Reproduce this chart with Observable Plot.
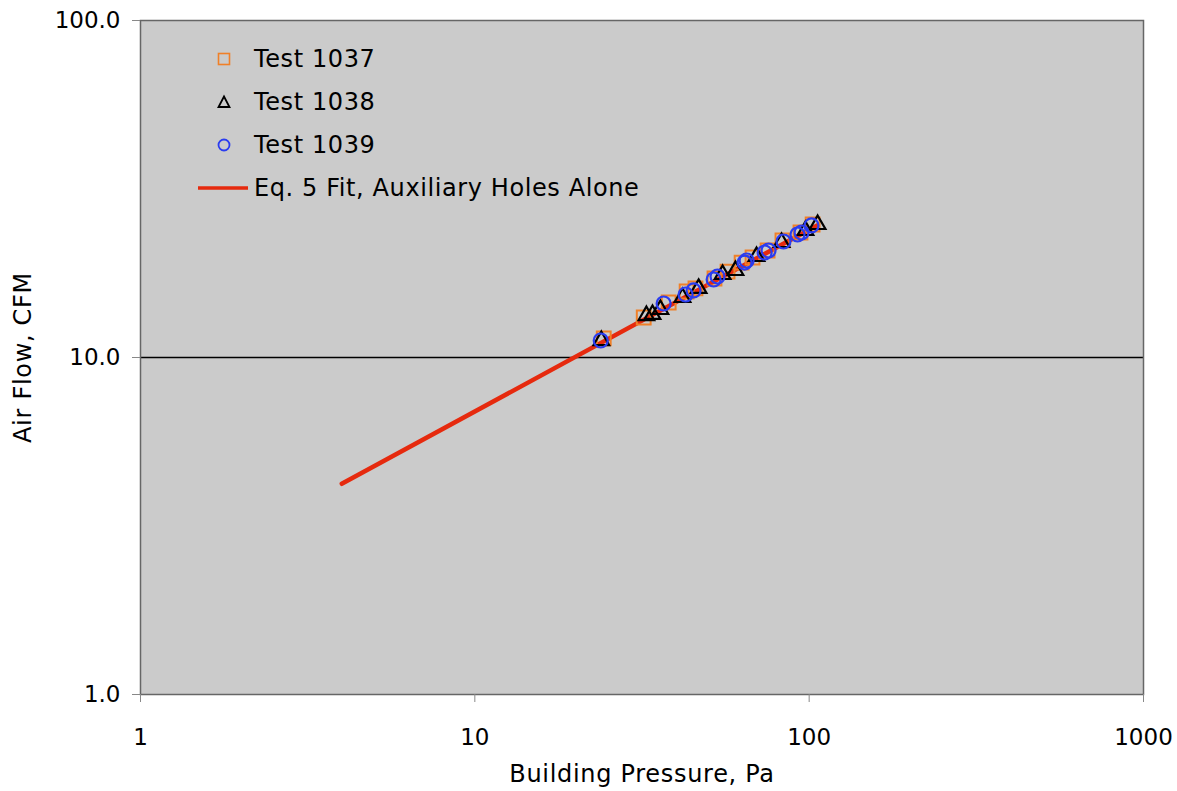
<!DOCTYPE html>
<html><head><meta charset="utf-8">
<script src="https://cdn.jsdelivr.net/npm/d3@7"></script>
<script src="https://cdn.jsdelivr.net/npm/@observablehq/plot@0.6"></script>
<style>
body{margin:0;background:#fff;font-family:"DejaVu Sans",Verdana,sans-serif;}
#wrap{position:relative;width:1177px;height:791px;}
#legend{position:absolute;left:196px;top:37px;font-size:24px;letter-spacing:0.6px;color:#000;}
.row{display:flex;align-items:center;height:43px;white-space:nowrap;}
.row svg{width:56px;height:30px;margin-right:2px;flex:none}
g[aria-label="x-axis label"] text, g[aria-label="y-axis label"] text{font-size:24px;letter-spacing:0.7px;}
</style></head><body><div id="wrap"><div id="plot"></div><div id="legend"></div></div>
<script>
const xTicks = [1, 10, 100, 1000];
const yTicks = [1, 10, 100];

// Test 1037 (orange squares): pressure Pa, flow CFM
const p1037 = [24.3, 32.0, 38.0, 43.0, 45.7, 52.1, 57.0, 62.8, 67.7, 75.1, 83.2, 94.2, 102.4];
const q1037 = [11.39, 13.14, 14.56, 15.70, 16.03, 17.16, 17.99, 19.13, 19.80, 20.77, 22.25, 23.49, 24.81];
// Test 1038 (black triangles)
const p1038 = [23.9, 32.6, 34.0, 35.9, 41.8, 46.7, 55.1, 60.2, 69.6, 82.7, 97.5, 106.0];
const q1038 = [11.23, 13.32, 13.42, 13.88, 15.07, 16.03, 17.63, 18.12, 19.94, 21.94, 23.82, 24.81];
// Test 1039 (blue circles)
const p1039 = [23.8, 36.7, 42.7, 45.1, 51.8, 53.2, 64.1, 65.0, 73.6, 75.6, 83.8, 92.3, 94.9, 101.6];
const q1039 = [11.23, 14.46, 15.38, 15.81, 17.04, 17.39, 19.13, 19.40, 20.49, 20.77, 22.09, 23.17, 23.49, 24.65];
// Eq. 5 fit line endpoints
const pFit = [4.0, 106.0];
const qFit = [4.22, 24.7];

const seriesNames = ["Test 1037", "Test 1038", "Test 1039", "Eq. 5 Fit, Auxiliary Holes Alone"];
const colors = {t1037: "#f08028", t1038: "#000000", t1039: "#2a3cf0", fit: "#e62a0e"};

const zip = (ps, qs) => ps.map((p, i) => ({p, q: qs[i]}));
const d1037 = zip(p1037, q1037), d1038 = zip(p1038, q1038), d1039 = zip(p1039, q1039), dFit = zip(pFit, qFit);

const chart = Plot.plot({
  width: 1177, height: 791,
  marginLeft: 140, marginTop: 20, marginRight: 34, marginBottom: 97,
  x: {type: "log", domain: [1, 1000]},
  y: {type: "log", domain: [1, 100]},
  style: {fontSize: "23px", fontFamily: "DejaVu Sans, Verdana, sans-serif", color: "#000", background: "#fff"},
  marks: [
    Plot.frame({fill: "#cbcbcb", stroke: null}),
    Plot.ruleY([10], {stroke: "#000", strokeWidth: 1.4}),
    Plot.frame({stroke: "#666", strokeWidth: 1.5}),
    Plot.axisX({ticks: xTicks, tickFormat: d => String(d), tickSize: 8, tickPadding: 26, stroke: "#888",
      label: "Building Pressure, Pa", labelAnchor: "center", labelOffset: 87, labelArrow: false}),
    Plot.axisY({ticks: yTicks, tickFormat: d => d.toFixed(1), tickSize: 8, tickPadding: 12, stroke: "#888",
      label: "Air Flow, CFM", labelAnchor: "center", labelOffset: 127, labelArrow: false}),
    Plot.line(dFit, {x: "p", y: "q", stroke: colors.fit, strokeWidth: 4.5, strokeLinecap: "round"}),
    Plot.dot(d1037, {x: "p", y: "q", symbol: "square", r: 7.8, fill: "none", stroke: colors.t1037, strokeWidth: 2}),
    Plot.dot(d1038, {x: "p", y: "q", symbol: "triangle", r: 5.8, fill: "none", stroke: colors.t1038, strokeWidth: 2.2}),
    Plot.dot(d1039, {x: "p", y: "q", symbol: "circle", r: 7, fill: "none", stroke: colors.t1039, strokeWidth: 2.2})
  ]
});
document.getElementById("plot").appendChild(chart);

const icons = [
  `<rect x="22.5" y="9.5" width="11" height="11" fill="none" stroke="${colors.t1037}" stroke-width="1.6"/>`,
  `<path d="M28,9.5 L33.5,20 L22.5,20 Z" fill="none" stroke="${colors.t1038}" stroke-width="1.8"/>`,
  `<circle cx="28" cy="15" r="5.5" fill="none" stroke="${colors.t1039}" stroke-width="1.8"/>`,
  `<line x1="2" y1="15" x2="52" y2="15" stroke="${colors.fit}" stroke-width="3.5"/>`
];
const legend = document.getElementById("legend");
seriesNames.forEach((name, i) => {
  const row = document.createElement("div");
  row.className = "row";
  row.innerHTML = `<svg viewBox="0 0 56 30">${icons[i]}</svg><span>${name}</span>`;
  legend.appendChild(row);
});
</script>
</body></html>
